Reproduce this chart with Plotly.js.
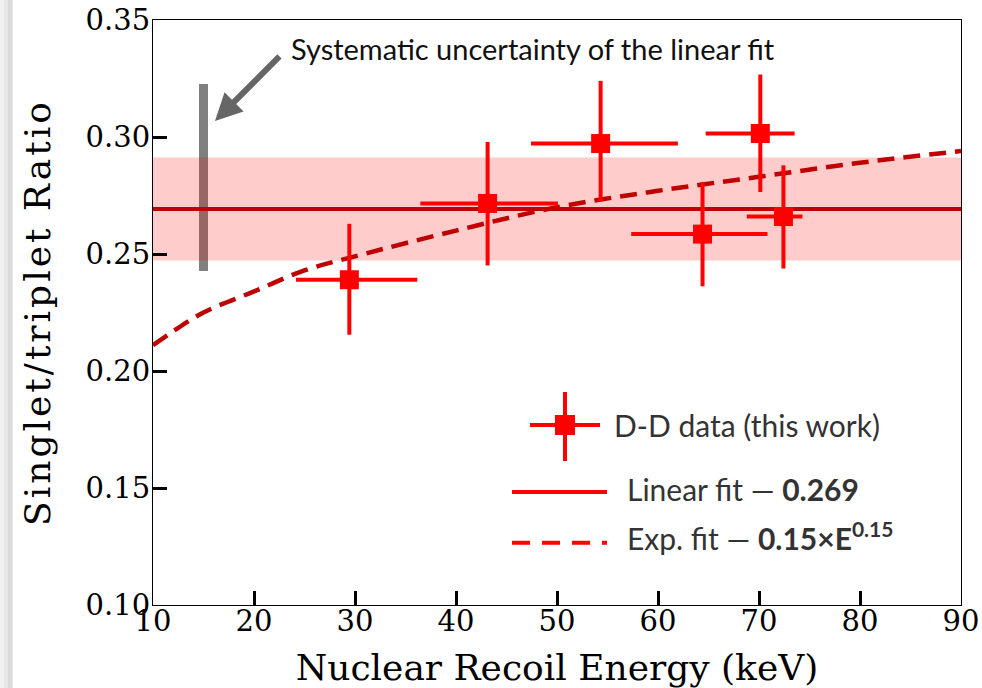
<!DOCTYPE html>
<html>
<head>
<meta charset="utf-8">
<script src="https://cdn.plot.ly/plotly-3.0.1.min.js"></script>
<style>
html,body{margin:0;padding:0;background:#fff}
#chart{width:982px;height:688px}
#chart .ytitle{letter-spacing:3px}
</style>
</head>
<body>
<div id="chart"></div>
<script>
// ---- data ----
const energy      = [29.44, 43.13, 54.32, 64.41, 70.13, 72.42];
const energyErrHi = [6.73, 6.96, 7.65, 6.43, 3.40, 1.88];
const energyErrLo = [5.28, 6.66, 6.89, 7.06, 5.41, 3.63];
const ratio       = [0.2390, 0.2716, 0.2972, 0.2585, 0.3015, 0.2660];
const ratioErrHi  = [0.0239, 0.0263, 0.0268, 0.0222, 0.0252, 0.0219];
const ratioErrLo  = [0.0235, 0.0265, 0.0248, 0.0223, 0.0250, 0.0222];

const fitRange     = [10, 90];
const linearFit    = 0.2692;
const linearFitErr = 0.0220;

const sysX     = 15;
const sysRange = [0.2427, 0.3226];

const expEnergy = [10, 12, 15, 20, 25, 30, 40, 50, 60, 70, 80, 90];
const expRatio  = [0.211, 0.217, 0.225, 0.234, 0.243, 0.249, 0.260, 0.270, 0.277, 0.283, 0.289, 0.294];

const xTicks = [10, 20, 30, 40, 50, 60, 70, 80, 90];
const yTicks = [0.10, 0.15, 0.20, 0.25, 0.30, 0.35];

const legendLabels = ['D-D data (this work)', 'Linear fit — <b>0.269</b>', 'Exp. fit — <b>0.15×E<sup>0.15</sup></b>'];
const arrowLabel = 'Systematic uncertainty of the linear fit';

// ---- traces ----
const serif = 'DejaVu Serif, serif';
const sans = 'Lato, Open Sans, sans-serif';

const traces = [
  { x: [sysX, sysX], y: sysRange, mode: 'lines', line: {color: '#808080', width: 9}, hoverinfo: 'skip' },
  { x: [fitRange[0], fitRange[1], fitRange[1], fitRange[0], fitRange[0]],
    y: [linearFit - linearFitErr, linearFit - linearFitErr, linearFit + linearFitErr, linearFit + linearFitErr, linearFit - linearFitErr],
    mode: 'lines', fill: 'toself', fillcolor: 'rgba(255,0,0,0.2)', line: {width: 0}, hoverinfo: 'skip' },
  { x: fitRange, y: [linearFit, linearFit], mode: 'lines', line: {color: '#c00000', width: 4} },
  { x: expEnergy, y: expRatio, mode: 'lines', line: {color: '#c00000', width: 4.5, dash: '17px,9px', shape: 'spline'} },
  { x: energy, y: ratio, mode: 'markers',
    marker: {symbol: 'square', size: 19, color: '#ff0000'},
    error_x: {type: 'data', symmetric: false, array: energyErrHi, arrayminus: energyErrLo, color: '#ff0000', thickness: 4, width: 0},
    error_y: {type: 'data', symmetric: false, array: ratioErrHi, arrayminus: ratioErrLo, color: '#ff0000', thickness: 4, width: 0} }
];

// ---- legend drawn by hand (paper coords) ----
const mk = {x: 0.5099, y: 0.3077};
const shapes = [
  // window shadow on the far left
  {type: 'rect', xref: 'paper', yref: 'paper', x0: -0.1894, x1: -0.1844, y0: -0.2, y1: 1.1, fillcolor: '#f1f1f1', line: {width: 0}, layer: 'below'},
  {type: 'rect', xref: 'paper', yref: 'paper', x0: -0.1844, x1: -0.1795, y0: -0.2, y1: 1.1, fillcolor: '#e7e7e7', line: {width: 0}, layer: 'below'},
  {type: 'rect', xref: 'paper', yref: 'paper', x0: -0.1795, x1: -0.1737, y0: -0.2, y1: 1.1, fillcolor: '#dadada', line: {width: 0}, layer: 'below'},
  // legend: data marker with error bars
  {type: 'line', xref: 'paper', yref: 'paper', x0: 0.4666, x1: 0.5532, y0: mk.y, y1: mk.y, line: {color: '#ff0000', width: 4}},
  {type: 'line', xref: 'paper', yref: 'paper', x0: mk.x, x1: mk.x, y0: 0.2462, y1: 0.3641, line: {color: '#ff0000', width: 4}},
  {type: 'rect', xref: 'paper', yref: 'paper', x0: mk.x - 0.0124, x1: mk.x + 0.0124, y0: mk.y - 0.0171, y1: mk.y + 0.0171, fillcolor: '#ff0000', line: {width: 0}},
  // legend: linear fit
  {type: 'line', xref: 'paper', yref: 'paper', x0: 0.4443, x1: 0.5619, y0: 0.1932, y1: 0.1932, line: {color: '#ff0000', width: 4}},
  // legend: exp fit
  {type: 'line', xref: 'paper', yref: 'paper', x0: 0.4443, x1: 0.5619, y0: 0.1065, y1: 0.1065, line: {color: '#ff0000', width: 4, dash: '18px,12px'}}
];

const annotations = [
  {xref: 'paper', yref: 'paper', x: 0.568, y: 0.3077, xanchor: 'left', yanchor: 'middle', showarrow: false,
   text: legendLabels[0], font: {family: sans, size: 30, color: '#333'}},
  {xref: 'paper', yref: 'paper', x: 0.5842, y: 0.1985, xanchor: 'left', yanchor: 'middle', showarrow: false,
   text: legendLabels[1], font: {family: sans, size: 30, color: '#333'}},
  {xref: 'paper', yref: 'paper', x: 0.5842, y: 0.1180, xanchor: 'left', yanchor: 'middle', showarrow: false,
   text: legendLabels[2], font: {family: sans, size: 30, color: '#333'}},
  {xref: 'paper', yref: 'paper', x: 0.1683, y: 0.9520, xanchor: 'left', yanchor: 'middle', showarrow: false,
   text: arrowLabel, font: {family: sans, size: 29, color: '#111'}},
  {xref: 'paper', yref: 'paper', x: 0.0767, y: 0.8274, ax: 66, ay: -66, text: '', showarrow: true,
   arrowhead: 2, arrowsize: 0.9, arrowwidth: 6, arrowcolor: '#666666'}
];

const layout = {
  width: 982, height: 688,
  margin: {l: 153, r: 21, t: 20, b: 83},
  paper_bgcolor: '#ffffff', plot_bgcolor: '#ffffff',
  showlegend: false,
  xaxis: {
    range: [10, 90], tickvals: xTicks, ticktext: xTicks.map(String),
    ticks: 'inside', ticklen: 14, tickwidth: 3, tickcolor: '#000',
    showline: true, linecolor: '#000', linewidth: 1, mirror: true,
    showgrid: false, zeroline: false, ticklabelstandoff: -10,
    tickfont: {family: serif, size: 29, color: '#000'},
    title: {text: 'Nuclear Recoil Energy (keV)', font: {family: serif, size: 36, color: '#000'}, standoff: 18}
  },
  yaxis: {
    range: [0.10, 0.35], tickvals: yTicks, ticktext: yTicks.map(v => v.toFixed(2)),
    ticks: 'inside', ticklen: 14, tickwidth: 3, tickcolor: '#000',
    showline: true, linecolor: '#000', linewidth: 1, mirror: true,
    showgrid: false, zeroline: false, ticklabelstandoff: -4,
    tickfont: {family: serif, size: 29, color: '#000'},
    title: {text: 'Singlet/triplet Ratio', font: {family: serif, size: 36, color: '#000'}, standoff: 24}
  },
  shapes: shapes,
  annotations: annotations
};

Plotly.newPlot('chart', traces, layout, {staticPlot: true, displayModeBar: false});
</script>
</body>
</html>
